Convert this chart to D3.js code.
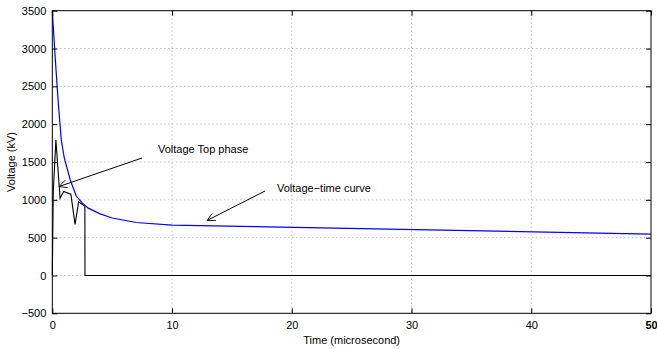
<!DOCTYPE html>
<html><head><meta charset="utf-8">
<script src="https://cdn.jsdelivr.net/npm/d3@7"></script>
<style>body{margin:0;background:#fff}svg{display:block}text{font-family:"Liberation Sans",Arial,sans-serif}</style>
</head><body>
<svg id="c" width="657" height="349"></svg>
<script>
const xTicks = [0,10,20,30,40,50];
const yTicks = [-500,0,500,1000,1500,2000,2500,3000,3500];
const curveTime = [0,0.25,0.5,0.75,1.0,1.5,2.0,2.5,3.0,4.0,5.0,7.0,10.0,50.0];
const curveVolt = [3500,2860,2282,1792,1553,1262,1050,960,890,815,760,700,666,547];
const topTime = [0,0.08,0.3,0.65,0.95,1.55,1.9,2.2,2.72,2.73,50];
const topVolt = [0,1100,1790,1020,1110,1075,675,975,915,0,0];
const annotations = [
  {text:"Voltage Top phase", tx:158, ty:153, x1:142, y1:158, x2:59, y2:186.5},
  {text:"Voltage\u2212time curve", tx:277, ty:192, x1:265, y1:191, x2:207, y2:220.5}
];

const svg = d3.select("#c");
const L=52.3, R=651, T=10.7, B=313.3;
const x = d3.scaleLinear().domain([0,50]).range([L,R]);
const y = d3.scaleLinear().domain([-500,3500]).range([B,T]);
const fmt = d3.format("d");

svg.append("defs").append("marker").attr("id","ah").attr("viewBox","0 0 10 10")
  .attr("refX",10).attr("refY",5).attr("markerWidth",10).attr("markerHeight",8)
  .attr("markerUnits","userSpaceOnUse").attr("orient","auto")
  .append("path").attr("d","M0,0 L10,5 L0,10").attr("fill","none").attr("stroke","#000").attr("stroke-width",1);

const g = svg.append("g");
g.selectAll(".gx").data(xTicks.slice(1,-1)).join("line")
  .attr("x1",d=>x(d)).attr("x2",d=>x(d)).attr("y1",T).attr("y2",B)
  .attr("stroke","#aaa").attr("stroke-dasharray","1,3");
g.selectAll(".gy").data(yTicks.slice(1,-1)).join("line")
  .attr("y1",d=>y(d)).attr("y2",d=>y(d)).attr("x1",L).attr("x2",R)
  .attr("stroke","#aaa").attr("stroke-dasharray","1,3");

const line = d3.line().x(d=>x(d[0])).y(d=>y(d[1]));
g.append("path").datum(topTime.map((t,i)=>[t,topVolt[i]])).attr("d",line)
  .attr("fill","none").attr("stroke","#000").attr("stroke-width",1.1);
g.append("path").datum(curveTime.map((t,i)=>[t,curveVolt[i]])).attr("d",line)
  .attr("fill","none").attr("stroke","#0000ff").attr("stroke-width",1.2);

const xb = svg.append("g").attr("transform",`translate(0,${B})`)
  .call(d3.axisBottom(x).tickValues(xTicks).tickFormat(fmt).tickSizeOuter(0).tickSizeInner(-5).tickPadding(8));
svg.append("g").attr("transform",`translate(0,${T})`)
  .call(d3.axisTop(x).tickValues(xTicks).tickSizeOuter(0).tickSizeInner(-5).tickFormat(""));
svg.append("g").attr("transform",`translate(${L},0)`)
  .call(d3.axisLeft(y).tickValues(yTicks).tickFormat(fmt).tickSizeOuter(0).tickSizeInner(-5).tickPadding(6));
svg.append("g").attr("transform",`translate(${R},0)`)
  .call(d3.axisRight(y).tickValues(yTicks).tickSizeOuter(0).tickSizeInner(-5).tickFormat(""));
svg.selectAll(".domain").remove();
svg.selectAll(".tick line").attr("stroke","#000");
svg.selectAll(".tick text").attr("font-size",11).attr("fill","#000").attr("font-family","'Liberation Sans',Arial,sans-serif");
xb.selectAll(".tick text").filter(d=>d===50).attr("font-weight","bold");
svg.append("rect").attr("x",L).attr("y",T).attr("width",R-L).attr("height",B-T)
  .attr("fill","none").attr("stroke","#000").attr("stroke-width",1);

svg.append("text").attr("x",(L+R)/2).attr("y",344).attr("text-anchor","middle").attr("font-size",11).text("Time (microsecond)");
svg.append("text").attr("transform",`translate(15,${(T+B)/2}) rotate(-90)`).attr("text-anchor","middle").attr("font-size",11).text("Voltage (kV)");

annotations.forEach(a=>{
  svg.append("line").attr("x1",a.x1).attr("y1",a.y1).attr("x2",a.x2).attr("y2",a.y2)
    .attr("stroke","#000").attr("stroke-width",1).attr("marker-end","url(#ah)");
  svg.append("text").attr("x",a.tx).attr("y",a.ty).attr("font-size",11).text(a.text);
});
</script>
</body></html>
